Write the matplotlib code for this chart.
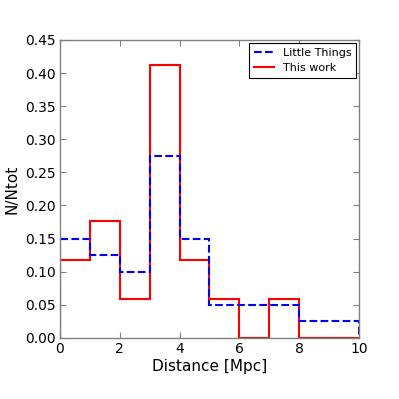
import numpy as np
import matplotlib
matplotlib.use("Agg")
import matplotlib.pyplot as plt

bin_edges = [0, 1, 2, 3, 4, 5, 6, 7, 8, 9, 10]
little_things = [0.150, 0.125, 0.100, 0.275, 0.150, 0.050, 0.050, 0.050, 0.025, 0.025]
this_work = [0.118, 0.176, 0.059, 0.412, 0.118, 0.059, 0.0, 0.059, 0.0, 0.0]

fig = plt.figure(figsize=(3.99, 3.99), dpi=100)
ax = fig.add_axes([0.150, 0.153, 0.750, 0.747])

centers = 0.5 * (np.array(bin_edges[:-1]) + np.array(bin_edges[1:]))
ax.hist(centers, bins=bin_edges, weights=this_work, histtype='step',
        color='red', lw=1.5, zorder=2)
ax.hist(centers, bins=bin_edges, weights=little_things, histtype='step',
        color='blue', lw=1.5, ls='--', zorder=3)

h_blue, = ax.plot([], [], color='blue', lw=1.5, ls='--')
h_red, = ax.plot([], [], color='red', lw=1.5)
leg = ax.legend([h_blue, h_red], ['Little Things', 'This work'], loc='upper right',
                fontsize=8, fancybox=False, framealpha=1, edgecolor='black',
                handlelength=1.8, borderaxespad=0.3)
leg.get_frame().set_linewidth(0.8)

ax.set_xlim(0, 10)
ax.set_ylim(0, 0.45)
ax.set_yticks(np.arange(0, 0.451, 0.05))
ax.set_xticks(np.arange(0, 11, 2))
for s in ax.spines.values():
    s.set_color('#808080')
    s.set_linewidth(1.0)
    s.set_zorder(4)
ax.tick_params(direction='in', top=True, right=True, labelsize=10, length=4,
               color='#808080', pad=3)
ax.set_xlabel('Distance [Mpc]', fontsize=11, labelpad=2)
ax.set_ylabel('N/Ntot', fontsize=11)

fig.savefig('out.png', dpi=100)
